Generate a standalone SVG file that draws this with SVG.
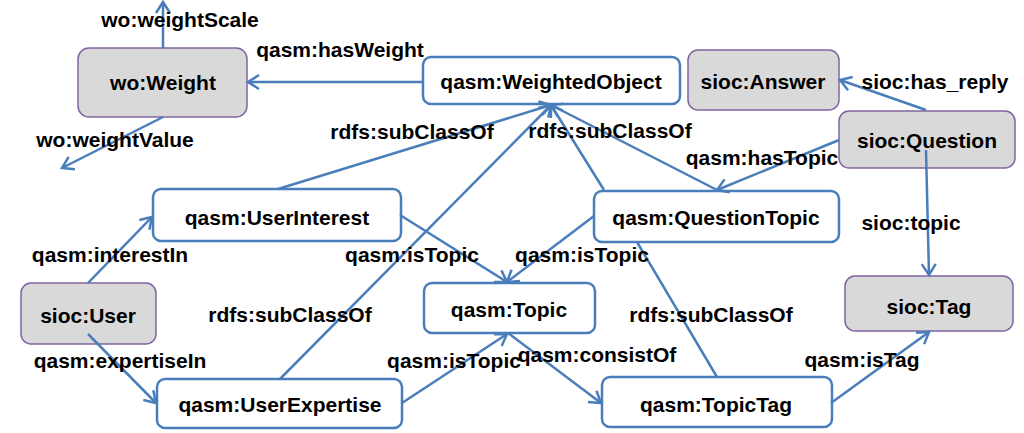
<svg xmlns="http://www.w3.org/2000/svg" width="1024" height="433" viewBox="0 0 1024 433">
<defs>
<style>
.t{font-family:"Liberation Sans",Arial,sans-serif;font-weight:bold;font-size:21px;fill:#000;text-anchor:middle}
.w{fill:#fff;stroke:#4a7ebb;stroke-width:2.5}
.g{fill:#d9d9d9;stroke:#8064a2;stroke-width:1.5}
.c{fill:none;stroke:#4a7ebb;stroke-width:2.5;marker-end:url(#a)}
.n{fill:none;stroke:#4a7ebb;stroke-width:2.5}
</style>
<marker id="a" markerUnits="userSpaceOnUse" markerWidth="14" markerHeight="16" refX="11" refY="7" orient="auto" overflow="visible">
<path d="M0,0 L11,7 L0,14" fill="none" stroke="#4a7ebb" stroke-width="2.5"/>
</marker>
</defs>
<rect width="1024" height="433" fill="#fff"/>

<g id="nodes">
<g id="wo-weight"><rect class="g" x="78" y="48" width="169" height="69" rx="11"/><text class="t" x="163" y="90">wo:Weight</text></g>
<g id="weighted-object"><rect class="w" x="423" y="57" width="257" height="47" rx="8"/><text class="t" x="551" y="89">qasm:WeightedObject</text></g>
<g id="sioc-answer"><rect class="g" x="688" y="50" width="151" height="60" rx="10"/><text class="t" x="763" y="89">sioc:Answer</text></g>
<g id="sioc-question"><rect class="g" x="839" y="111" width="176" height="57" rx="10"/><text class="t" x="927" y="148">sioc:Question</text></g>
<g id="question-topic"><rect class="w" x="594" y="191" width="245" height="51" rx="8"/><text class="t" x="716" y="225">qasm:QuestionTopic</text></g>
<g id="user-interest"><rect class="w" x="153" y="189" width="248" height="52" rx="8"/><text class="t" x="277" y="225">qasm:UserInterest</text></g>
<g id="sioc-user"><rect class="g" x="21" y="283" width="135" height="61" rx="10"/><text class="t" x="88" y="323">sioc:User</text></g>
<g id="topic"><rect class="w" x="424" y="283" width="171" height="50" rx="8"/><text class="t" x="509" y="317">qasm:Topic</text></g>
<g id="sioc-tag"><rect class="g" x="845" y="276" width="168" height="55" rx="10"/><text class="t" x="929" y="314">sioc:Tag</text></g>
<g id="user-expertise"><rect class="w" x="157" y="379" width="245" height="49" rx="8"/><text class="t" x="280" y="412">qasm:UserExpertise</text></g>
<g id="topic-tag"><rect class="w" x="602" y="377" width="230" height="50" rx="8"/><text class="t" x="716" y="412">qasm:TopicTag</text></g>
</g>

<g id="connectors">
<path class="c" d="M163,48 L163,2"/>
<path class="c" d="M163,117 L62,168"/>
<path class="c" d="M423,82 L248,82"/>
<path class="c" d="M926,110 L840,80"/>
<path class="c" d="M839,140 L717,190"/>
<path class="c" d="M926,150 L929,275"/>
<path class="c" d="M831,403 L929,332"/>
<path class="c" d="M508,333 L601,403"/>
<path class="c" d="M402,403 L507,334"/>
<path class="c" d="M400,215 L507,282"/>
<path class="c" d="M594,216 L507,282"/>
<path class="c" d="M88,283 L152,217"/>
<path class="c" d="M88,334 L156,403"/>
<path class="c" d="M278,189 L551,105"/>
<path class="c" d="M280,379 L551,105"/>
<path class="c" d="M717,190 L551,105"/>
<path class="c" d="M717,377 L637,242 M604,190 L551,105"/>
</g>

<g id="labels">
<text class="t" x="180" y="27">wo:weightScale</text>
<text class="t" x="340" y="57">qasm:hasWeight</text>
<text class="t" x="115" y="147">wo:weightValue</text>
<text class="t" x="412" y="139">rdfs:subClassOf</text>
<text class="t" x="610" y="138">rdfs:subClassOf</text>
<text class="t" x="935" y="89">sioc:has_reply</text>
<text class="t" x="762" y="165">qasm:hasTopic</text>
<text class="t" x="911" y="230">sioc:topic</text>
<text class="t" x="110" y="262">qasm:interestIn</text>
<text class="t" x="412" y="262">qasm:isTopic</text>
<text class="t" x="582" y="262">qasm:isTopic</text>
<text class="t" x="290" y="322">rdfs:subClassOf</text>
<text class="t" x="711" y="322">rdfs:subClassOf</text>
<text class="t" x="120" y="368">qasm:expertiseIn</text>
<text class="t" x="454" y="368">qasm:isTopic</text>
<text class="t" x="597" y="362">qasm:consistOf</text>
<text class="t" x="862" y="367">qasm:isTag</text>
</g>
</svg>
